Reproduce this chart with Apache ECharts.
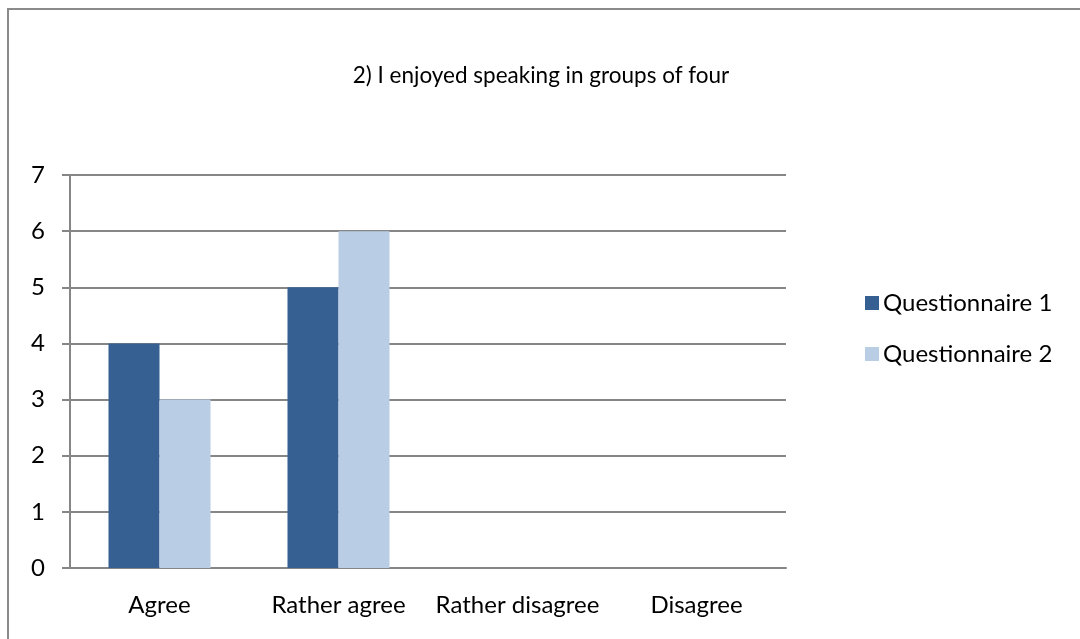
<!DOCTYPE html>
<html><head><meta charset="utf-8">
<script src="https://cdn.jsdelivr.net/npm/echarts@6/dist/echarts.min.js"></script>
<style>
html,body{margin:0;padding:0;background:#fff;}
#frame{position:absolute;left:7px;top:8px;width:1200px;height:800px;border-left:2px solid #8a8a8a;border-top:2px solid #8a8a8a;box-sizing:border-box;}
#c{position:absolute;left:0;top:0;width:1080px;height:639px;}
</style></head>
<body>
<div id="frame"></div>
<div id="c"></div>
<script>
const categories = ['Agree', 'Rather agree', 'Rather disagree', 'Disagree'];
const q1 = [4, 5, 0, 0];
const q2 = [3, 6, 0, 0];
const seriesNames = ['Questionnaire 1', 'Questionnaire 2'];
const yTicks = [0, 7, 1];

const font = 'Lato, "Open Sans", sans-serif';
const chart = echarts.init(document.getElementById('c'));
chart.setOption({
  animation: false,
  title: {
    text: '2) I enjoyed speaking in groups of four',
    left: 536, top: 59, textAlign: 'center',
    textStyle: {fontFamily: font, fontSize: 22.5, fontWeight: 'normal', color: '#000'}
  },
  legend: {
    orient: 'vertical', left: 860, top: 286, itemGap: 27,
    itemWidth: 14, itemHeight: 14, icon: 'rect',
    textStyle: {fontFamily: font, fontSize: 24, color: '#000', padding: [0,0,0,-1]},
    data: seriesNames
  },
  grid: {left: 70, top: 175, width: 716, height: 393, containLabel: false},
  xAxis: {
    type: 'category', data: categories,
    axisLine: {lineStyle: {color: '#868686', width: 2}},
    axisTick: {length: 7, lineStyle: {color: '#868686', width: 2}},
    axisLabel: {fontFamily: font, fontSize: 24, color: '#000', margin: 25, interval: 0, hideOverlap: false}
  },
  yAxis: {
    type: 'value', min: yTicks[0], max: yTicks[1], interval: yTicks[2],
    axisLine: {show: true, lineStyle: {color: '#868686', width: 2}},
    axisTick: {show: true, length: 8, lineStyle: {color: '#868686', width: 2}},
    splitLine: {lineStyle: {color: '#868686', width: 2}},
    axisLabel: {fontFamily: font, fontSize: 24, color: '#000', margin: 25}
  },
  series: [
    {name: seriesNames[0], type: 'bar', data: q1, barGap: '0%', barCategoryGap: '43%', itemStyle: {color: '#376092'}},
    {name: seriesNames[1], type: 'bar', data: q2, itemStyle: {color: '#B9CDE5'}}
  ]
});
</script>
</body></html>
